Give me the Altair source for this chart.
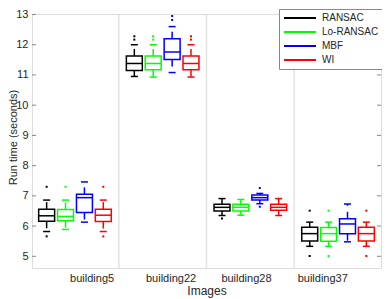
import json
import altair as alt
import pandas as pd

buildings = ["building5", "building22", "building28", "building37"]
series = ["RANSAC", "Lo-RANSAC", "MBF", "WI"]
colors = ["#000000", "#00ff00", "#0000ff", "#ff0000"]
offsets = [-0.323, -0.108, 0.108, 0.323]
label_pos = [1.19, 2.09, 2.95, 3.82]
y_ticks = [5, 6, 7, 8, 9, 10, 11, 12, 13]
grid_x = [1.5, 2.5, 3.5]

# [lower whisker, q1, median, q3, upper whisker] per building
stats_ransac = [[5.82, 6.16, 6.34, 6.56, 6.86], [10.95, 11.15, 11.38, 11.63, 12.00],
                [6.35, 6.50, 6.62, 6.72, 6.91], [5.33, 5.51, 5.75, 5.96, 6.13]]
stats_lo = [[5.89, 6.18, 6.32, 6.55, 6.86], [10.93, 11.17, 11.38, 11.63, 12.00],
            [6.36, 6.50, 6.62, 6.72, 6.88], [5.33, 5.50, 5.75, 5.95, 6.13]]
stats_mbf = [[6.13, 6.45, 6.94, 7.05, 7.46], [11.08, 11.51, 11.76, 12.20, 12.60],
             [6.74, 6.86, 6.94, 7.03, 7.08], [5.48, 5.75, 6.07, 6.24, 6.73]]
stats_wi = [[5.82, 6.15, 6.36, 6.56, 6.86], [10.93, 11.17, 11.38, 11.63, 12.00],
            [6.35, 6.52, 6.62, 6.72, 6.91], [5.33, 5.51, 5.75, 5.96, 6.13]]

out_ransac = [[7.30, 5.66], [12.28, 12.17], [6.25], [6.51, 5.01]]
out_lo = [[7.30], [12.28, 12.17], [], [6.51, 5.01]]
out_mbf = [[], [12.95, 12.82], [7.26, 6.64], []]
out_wi = [[7.30, 5.66], [12.28, 12.17], [], [6.51, 5.01]]

all_stats = [stats_ransac, stats_lo, stats_mbf, stats_wi]
all_out = [out_ransac, out_lo, out_mbf, out_wi]

rows, orows = [], []
for si, s in enumerate(series):
    for bi, b in enumerate(buildings):
        lo, q1, med, q3, hi = all_stats[si][bi]
        pos = bi + 1 + offsets[si]
        rows.append(dict(series=s, building=b, pos=pos, lo=lo, q1=q1, med=med, q3=q3, hi=hi))
        for v in all_out[si][bi]:
            orows.append(dict(series=s, building=b, pos=pos, val=v))
df = pd.DataFrame(rows)
odf = pd.DataFrame(orows)

W, H = 349, 254
xscale = alt.Scale(domain=[0.51, 4.49], nice=False, zero=False)
yscale = alt.Scale(domain=[4.613, 13.017], nice=False, zero=False)

label_expr = "%s[indexof(%s, datum.value)]" % (json.dumps(buildings), json.dumps(label_pos))
xaxis = alt.Axis(values=label_pos, labelExpr=label_expr, ticks=False, domain=False, grid=False,
                 labelPadding=4, labelFontSize=11, labelColor="#262626", title="Images",
                 titleFontSize=12, titleFontWeight="normal", titleColor="#262626", titlePadding=2)
yaxis = alt.Axis(values=y_ticks, ticks=False, domain=False, grid=False, labelPadding=4,
                 labelFontSize=11, labelColor="#262626", title="Run time (seconds)",
                 titleFontSize=11, titleFontWeight="normal", titleColor="#262626",
                 titleX=-14, titleY=123, titleBaseline="bottom")
legend = alt.Legend(orient="none", legendX=247, legendY=-5, title=None, symbolType="M-4,0H4",
                    symbolSize=64, symbolStrokeWidth=2, symbolOffset=12, labelOffset=17,
                    labelFontSize=10, labelColor="#262626", strokeColor="#888888",
                    fillColor="white", padding=4, rowPadding=4, symbolOpacity=1)
color = alt.Color("series:N", scale=alt.Scale(domain=series, range=colors), legend=legend)


def X(f):
    return alt.X(f, type="quantitative", scale=xscale, axis=xaxis)


def Y(f):
    return alt.Y(f, type="quantitative", scale=yscale, axis=yaxis)


base = alt.Chart(df).transform_calculate(
    bx0="datum.pos - 0.091", bx1="datum.pos + 0.091",
    cx0="datum.pos - 0.04", cx1="datum.pos + 0.04")

grid = alt.Chart(pd.DataFrame({"g": grid_x})).mark_rule(color="#e3e3e3", strokeWidth=1.5).encode(x=X("g"))

boxes = base.mark_rect(filled=False, strokeWidth=1.5).encode(
    x=X("bx0"), x2="bx1", y=Y("q1"), y2="q3", color=color)
medians = base.mark_rule(strokeWidth=1.5).encode(x=X("bx0"), x2="bx1", y=Y("med"), color=color)
wh_up = base.mark_rule(strokeWidth=1.5, strokeDash=[7, 6]).encode(x=X("pos"), y=Y("q3"), y2="hi", color=color)
wh_dn = base.mark_rule(strokeWidth=1.5, strokeDash=[7, 6]).encode(x=X("pos"), y=Y("q1"), y2="lo", color=color)
cap_up = base.mark_rule(strokeWidth=1.5).encode(x=X("cx0"), x2="cx1", y=Y("hi"), color=color)
cap_dn = base.mark_rule(strokeWidth=1.5).encode(x=X("cx0"), x2="cx1", y=Y("lo"), color=color)
outs = alt.Chart(odf).mark_square(size=4, opacity=1).encode(x=X("pos"), y=Y("val"), color=color)

tk = pd.DataFrame({"t": y_ticks})
ticks_l = alt.Chart(tk).mark_rule(color="#888888").encode(y=Y("t"), x=alt.value(0), x2=alt.value(4))
ticks_r = alt.Chart(tk).mark_rule(color="#888888").encode(y=Y("t"), x=alt.value(W - 4), x2=alt.value(W))

chart = alt.layer(grid, ticks_l, ticks_r, wh_up, wh_dn, cap_up, cap_dn, boxes, medians, outs).properties(
    width=W, height=H, autosize=alt.AutoSizeParams(type="none"),
    padding={"left": 24, "top": 6, "right": 1, "bottom": 31}
).configure_view(stroke="#888888", strokeWidth=1.2).configure(font="Liberation Sans")

chart.save("out.html", embed_options={"renderer": "svg", "actions": False})
